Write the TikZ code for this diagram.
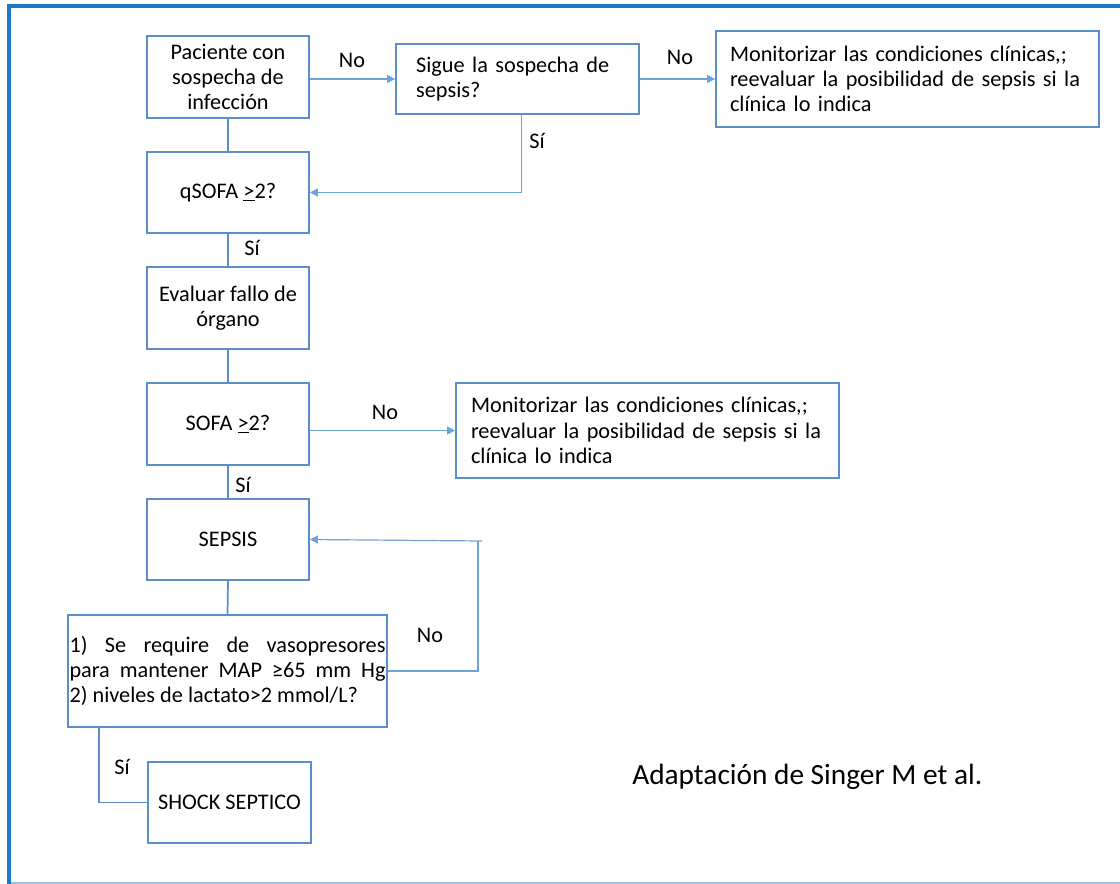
\documentclass[tikz,border=0pt]{standalone}
\usepackage{fontspec}
\setmainfont{Carlito}
\usetikzlibrary{arrows.meta}
\definecolor{boxblue}{HTML}{5B8FCB}
\definecolor{lineblue}{HTML}{6FA3DA}
\definecolor{frameblue}{HTML}{1C78C9}
\definecolor{framelight}{HTML}{9CC0E2}
\tikzset{
  box/.style={draw=boxblue, line width=1.3pt, rectangle, inner sep=0pt, font=\fontsize{16.7}{19}\selectfont, align=center},
  lbox/.style={box, align=left},
  conn/.style={draw=boxblue, line width=1.3pt},
  arr/.style={draw=lineblue, line width=0.9pt, -{Triangle[length=6pt,width=6pt]}},
  thin/.style={draw=lineblue, line width=0.9pt},
  lbl/.style={font=\fontsize{16.7}{19}\selectfont, inner sep=0pt}
}
\begin{document}
\begin{tikzpicture}[x=0.75pt,y=-0.75pt]
\useasboundingbox (0,0) rectangle (1120,884);
% frame
\draw[framelight, line width=1.2pt] (9,883) -- (1120,883);
\draw[frameblue, line width=2.4pt] (9,884) -- (9,6) -- (1120,6);

% boxes
\node[box, minimum width=121.5pt, minimum height=61.5pt] (b1) at (228,77) {Paciente con\\sospecha de\\infección};
\node[box, minimum width=121.5pt, minimum height=60.75pt] (qsofa) at (228,192.5) {qSOFA \underline{>}2?};
\node[box, minimum width=121.5pt, minimum height=61.5pt] (b4) at (228,308) {Evaluar fallo de\\órgano};
\node[box, minimum width=121.5pt, minimum height=61.5pt] (sofa) at (228,424) {SOFA \underline{>}2?};
\node[box, minimum width=121.5pt, minimum height=60.75pt] (sepsis) at (228,539.5) {SEPSIS};
\node[box, minimum width=239.25pt, minimum height=84pt, text width=237pt, align=justify] (lact) at (227.5,671)
  {1) Se require de vasopresores\linebreak para mantener MAP ≥65 mm Hg\linebreak 2) niveles de lactato>2 mmol/L?};
\node[box, minimum width=122.25pt, minimum height=60.75pt] (shock) at (229.5,802.5) {SHOCK SEPTICO};
\node[lbox, minimum width=182.25pt, minimum height=52.5pt, text width=152pt, inner xsep=15pt] (b2) at (517.5,79) {Sigue la sospecha de\\sepsis?};
\node[lbox, minimum width=287.25pt, minimum height=72pt, text width=266.25pt, inner xsep=10.5pt] (b3) at (907.5,79) {Monitorizar las condiciones clínicas,;\\reevaluar la posibilidad de sepsis si la\\clínica lo indica};
\node[lbox, minimum width=287.25pt, minimum height=71.25pt, text width=264.75pt, inner xsep=11.25pt] (b5) at (647.5,430.5) {Monitorizar las condiciones clínicas,;\\reevaluar la posibilidad de sepsis si la\\clínica lo indica};

% labels
\node[lbl] (l1) at (352,60) {No};
\node[lbl] (l2) at (680,57) {No};
\node[lbl] (l3) at (537,141) {Sí};
\node[lbl] (l4) at (252,248) {Sí};
\node[lbl] (l5) at (385,412) {No};
\node[lbl] (l6) at (243,485) {Sí};
\node[lbl] (l7) at (430,635) {No};
\node[lbl] (l8) at (122,767) {Sí};
\node[lbl, font=\fontsize{22}{26}\selectfont, anchor=west] (credit) at (632,777) {Adaptación de Singer M et al.};

% vertical connectors
\draw[conn] (b1.south) -- (qsofa.north);
\draw[conn] (qsofa.south) -- (b4.north);
\draw[conn] (b4.south) -- (sofa.north);
\draw[conn] (sofa.south) -- (sepsis.north);
\draw[conn] (sepsis.south) -- (lact.north);

% arrows
\draw[arr] (b2.west -| b1.east) -- (b2.west);
\draw[arr] (b2.east) -- (b3.west);
\draw[arr] ([xshift=3pt]b2.south) |- (qsofa.east);
\draw[arr] (b5.west -| sofa.east) -- (b5.west);
\coordinate (loopc) at (478,541);
\draw[thin] (lact.east) -| (loopc);
\draw[arr] ([xshift=3pt]loopc) -- (sepsis.east);
\draw[conn] ([xshift=24pt]lact.south west) |- (shock.west);
\end{tikzpicture}
\end{document}
